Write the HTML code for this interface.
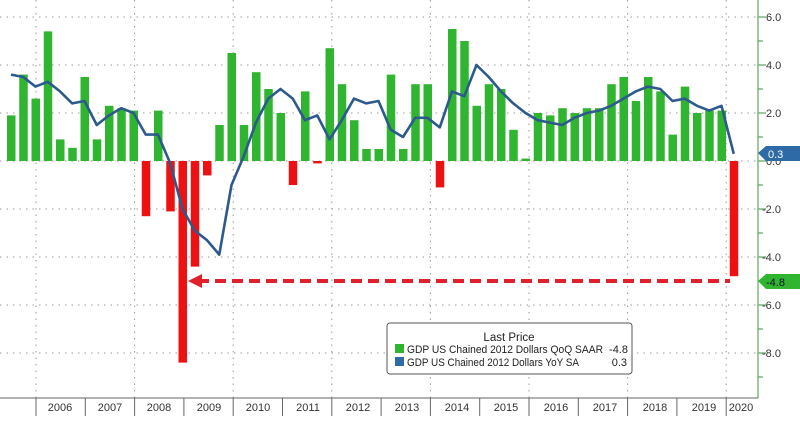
<!DOCTYPE html>
<html><head><meta charset="utf-8"><style>
body{margin:0;background:#fff;width:800px;height:416px;overflow:hidden;font-family:"Liberation Sans",sans-serif}
svg text{font-family:"Liberation Sans",sans-serif}
</style></head><body>
<svg id="s" width="800" height="416" xmlns="http://www.w3.org/2000/svg">
<g id="grid"></g>
<g id="bars"></g>
<polyline id="line" fill="none" stroke="#2c5a8c" stroke-width="2.6" stroke-linejoin="round"/>
<line x1="198" y1="281" x2="730" y2="281" stroke="#e0202a" stroke-width="4" stroke-dasharray="11,6"/>
<polygon points="188,281 202,274 202,288" fill="#e0202a"/>
<line x1="758" y1="0" x2="758" y2="398" stroke="#7cba7c" stroke-width="1.5"/>
<g id="ticks"></g>
<line x1="0" y1="398" x2="758" y2="398" stroke="#666" stroke-width="1"/>
<g id="xl" font-size="11" fill="#333" text-anchor="middle">
<text x="60" y="411">2006</text><text x="110" y="411">2007</text><text x="159" y="411">2008</text><text x="209" y="411">2009</text><text x="258" y="411">2010</text><text x="308" y="411">2011</text><text x="358" y="411">2012</text><text x="407" y="411">2013</text><text x="457" y="411">2014</text><text x="506" y="411">2015</text><text x="556" y="411">2016</text><text x="605" y="411">2017</text><text x="655" y="411">2018</text><text x="704" y="411">2019</text><text x="741" y="411">2020</text>
</g>
<g font-size="11" fill="#333">
<text x="766" y="21">6.0</text><text x="766" y="69">4.0</text><text x="766" y="117">2.0</text><text x="766" y="165">0.0</text>
<text x="762" y="213">-2.0</text><text x="762" y="261">-4.0</text><text x="762" y="309">-6.0</text><text x="762" y="357">-8.0</text>
</g>
<polygon points="758,153 766,146 800,146 800,161 766,161" fill="#2e6aa6"/>
<text x="768" y="158" font-size="11" fill="#fff">0.3</text>
<polygon points="758,281 766,274 800,274 800,289 766,289" fill="#2fb52f"/>
<text x="766" y="286" font-size="11" fill="#113">-4.8</text>
<rect x="387" y="323" width="245" height="51" rx="3" fill="#fff" stroke="#555" stroke-width="1"/>
<text x="509" y="341" font-size="11.5" fill="#222" text-anchor="middle">Last Price</text>
<rect x="395" y="344" width="9" height="9" fill="#2fb52f"/>
<text x="407" y="353" font-size="11" fill="#222" textLength="196" lengthAdjust="spacingAndGlyphs">GDP US Chained 2012 Dollars QoQ SAAR</text>
<text x="628" y="353" font-size="11" fill="#222" text-anchor="end">-4.8</text>
<rect x="395" y="357" width="9" height="9" fill="#2e6aa6"/>
<text x="407" y="366" font-size="11" fill="#222" textLength="172" lengthAdjust="spacingAndGlyphs">GDP US Chained 2012 Dollars YoY SA</text>
<text x="627" y="366" font-size="11" fill="#222" text-anchor="end">0.3</text>
</svg>
<script>
var NS="http://www.w3.org/2000/svg";
function el(t,a,p){var e=document.createElementNS(NS,t);for(var k in a)e.setAttribute(k,a[k]);document.getElementById(p).appendChild(e);return e;}
var Y=function(v){return 161-24*v;};
var g="grid";
[6,4,2,0,-2,-4,-6,-8].forEach(function(v){el("line",{x1:0,x2:758,y1:Y(v),y2:Y(v),stroke:"#999","stroke-width":1,"stroke-dasharray":"1.5,5"},g);});
for(var k=0;k<8;k++){var x=36+k*98.6;el("line",{x1:x,x2:x,y1:0,y2:398,stroke:"#999","stroke-width":1,"stroke-dasharray":"1.5,5"},g);}
for(var k=0;k<15;k++){var x=36+k*49.3;el("line",{x1:x,x2:x,y1:398,y2:416,stroke:"#666","stroke-width":1},"xl");}
for(var v=-9;v<=7;v++){var y=Y(v);el("line",{x1:758,x2:v%2==0?766:763,y1:y,y2:y,stroke:"#5aa55a","stroke-width":1.2},"ticks");}
var q=[1.9,3.6,2.6,5.4,0.9,0.55,3.5,0.9,2.3,2.2,2.1,-2.3,2.1,-2.1,-8.4,-4.4,-0.6,1.5,4.5,1.5,3.7,3.0,2.0,-1.0,2.9,-0.1,4.7,3.2,1.7,0.5,0.5,3.6,0.5,3.2,3.2,-1.1,5.5,5.0,2.3,3.2,3.0,1.3,0.1,2.0,1.9,2.2,2.0,2.2,2.2,3.2,3.5,2.5,3.5,2.9,1.1,3.1,2.0,2.1,2.1,-4.8];
var yy=[3.6,3.5,3.1,3.3,2.9,2.4,2.5,1.5,1.9,2.2,2.0,1.1,1.1,-0.1,-2.0,-2.9,-3.3,-3.9,-1.0,0.2,1.6,2.6,3.0,2.6,1.7,1.9,0.9,1.7,2.6,2.4,2.5,1.3,1.0,1.8,1.8,1.4,2.7,2.9,2.7,4.0,3.5,2.9,2.4,2.0,1.7,1.6,1.5,1.8,2.0,2.1,2.3,2.6,2.9,3.1,3.0,2.5,2.6,2.3,2.1,2.3,0.3];
yy.splice(36,1);
var pts=[];
var dx=12.25;
for(var i=0;i<q.length;i++){var c=11+i*dx,v=q[i];
 el("rect",{x:c-4,width:8.5,y:v>=0?Y(v):Y(0),height:Math.abs(v)*24,fill:v>=0?"#2fb52f":"#ee1111"},"bars");
 pts.push(c+","+Y(yy[i]));}
document.getElementById("line").setAttribute("points",pts.join(" "));
</script>
</body></html>
